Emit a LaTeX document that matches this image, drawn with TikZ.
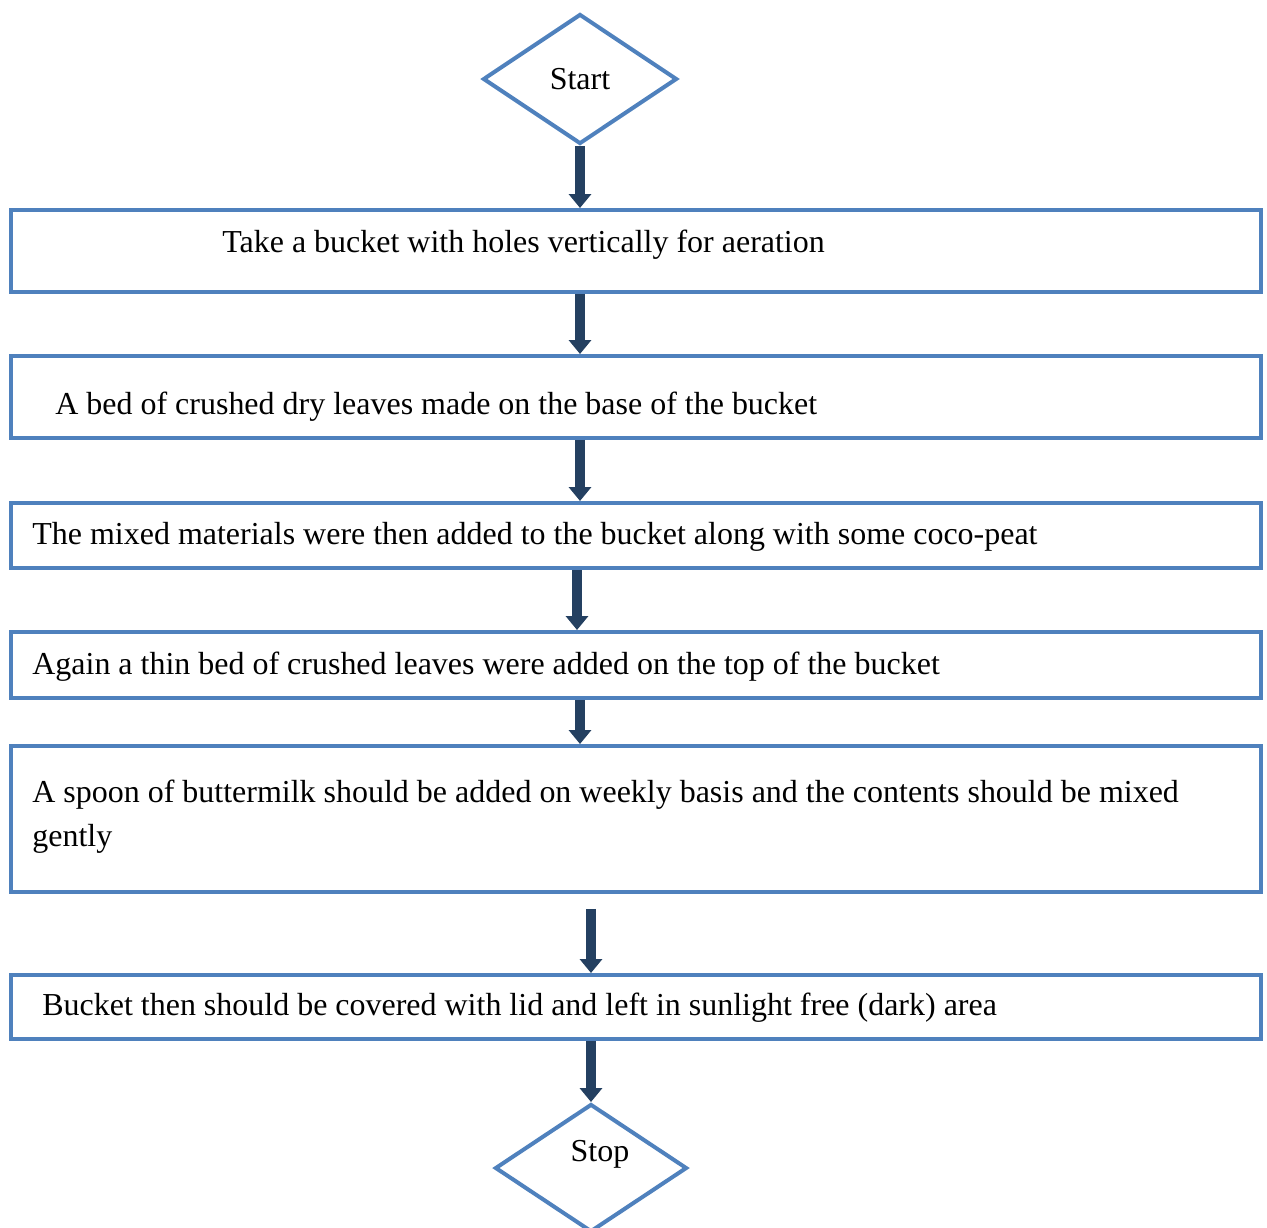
\documentclass[tikz,border=0pt]{standalone}
\usepackage{fontspec}
\setmainfont{Liberation Serif}
\usetikzlibrary{shapes.geometric,arrows.meta}
\definecolor{boxblue}{HTML}{4F81BD}
\definecolor{arrownavy}{HTML}{244061}
\tikzset{
  box/.style={draw=boxblue, line width=0.08cm, minimum width=25cm, inner sep=0pt},
  decision/.style={diamond, draw=boxblue, line width=0.08cm, inner sep=0pt},
  txt/.style={anchor=base west, inner sep=0pt, align=left},
  flow/.style={draw=arrownavy, line width=0.2cm, -{Triangle[width=0.44cm,length=0.28cm]}}
}
\begin{document}
\begin{tikzpicture}[x=0.02cm, y=-0.02cm, font=\fontsize{18.2}{25}\selectfont]
\useasboundingbox (0,0) rectangle (1267,1227);

\node (start) at (580,79) [decision, minimum width=3.88cm, minimum height=2.6cm]{Start};

\node (b1) at (636,251) [box, minimum height=1.64cm]{};
\node (b2) at (636,397) [box, minimum height=1.64cm]{};
\node (b3) at (636,535.5) [box, minimum height=1.3cm]{};
\node (b4) at (636,665) [box, minimum height=1.32cm]{};
\node (b5) at (636,819) [box, minimum height=2.92cm]{};
\node (b6) at (636,1007) [box, minimum height=1.28cm]{};

\node (stop) at (591,1168) [decision, minimum width=3.84cm, minimum height=2.56cm,
  label={[xshift=0.18cm, yshift=0.28cm]center:Stop}]{};

\node (t1) at (222,252) [txt]{Take a bucket with holes vertically for aeration};
\node (t2) at (55,414) [txt]{A bed of crushed dry leaves made on the base of the bucket};
\node (t3) at (32,544) [txt]{The mixed materials were then added to the bucket along with some coco-peat};
\node (t4) at (32,674) [txt]{Again a thin bed of crushed leaves were added on the top of the bucket};
\node (t5) at (32,846) [txt]{A spoon of buttermilk should be added on weekly basis and the contents should be mixed\\gently};
\node (t6) at (42,1015) [txt]{Bucket then should be covered with lid and left in sunlight free (dark) area};

\draw [flow] (start.south) -- (start.south |- b1.north);
\draw [flow] (start |- b1.south) -- (start |- b2.north);
\draw [flow] (start |- b2.south) -- (start |- b3.north);
\draw [flow] ([xshift=-0.06cm]start |- b3.south) -- ([xshift=-0.06cm]start |- b4.north);
\draw [flow] (start |- b4.south) -- (start |- b5.north);

\draw [flow] ([yshift=-0.3cm]stop |- b5.south) -- (stop |- b6.north);
\draw [flow] (stop |- b6.south) -- (stop.north);

\end{tikzpicture}
\end{document}
